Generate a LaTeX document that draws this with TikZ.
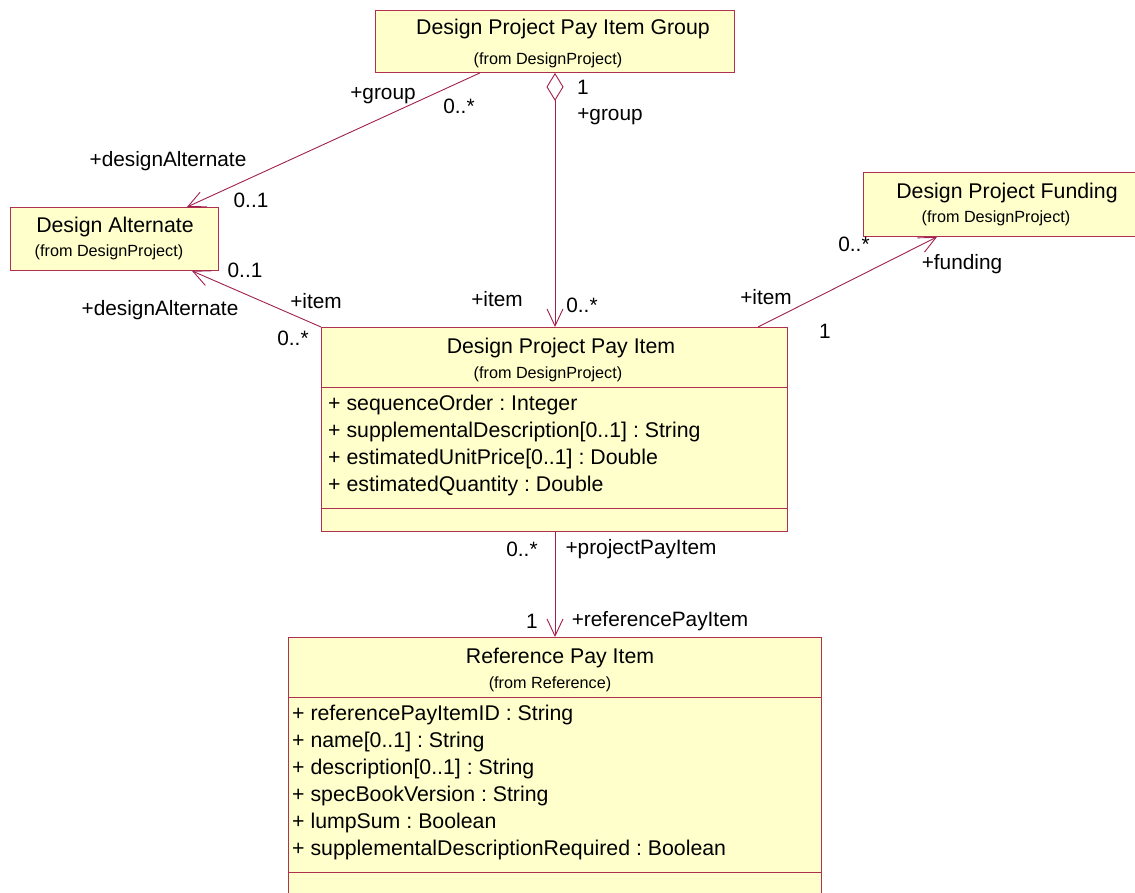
\documentclass[tikz,border=0pt]{standalone}
\usepackage{fontspec}
\setmainfont{Liberation Sans}
\usetikzlibrary{arrows.meta}
\frenchspacing

\definecolor{boxfill}{RGB}{255,255,204}
\definecolor{boxline}{RGB}{176,48,80}
\definecolor{linecol}{RGB}{160,32,80}

\tikzset{
  cls/.style={draw=boxline, fill=boxfill, line width=0.9pt, anchor=north west, inner sep=0pt},
  ttl/.style={anchor=base, inner sep=0pt, font=\fontsize{21.3}{25}\selectfont},
  frm/.style={anchor=base, inner sep=0pt, font=\fontsize{16.2}{19}\selectfont},
  attr/.style={anchor=base west, inner sep=0pt, font=\fontsize{21.3}{25}\selectfont},
  lbl/.style={inner sep=0pt, font=\fontsize{20.8}{25}\selectfont},
  assoc/.style={draw=linecol, line width=0.9pt},
  nav/.style={assoc, -{Straight Barb[length=17pt,width=16pt]}},
}

\begin{document}
\begin{tikzpicture}[x=1pt, y=-1pt]
    \useasboundingbox (0,0) rectangle (1135,893);
    \clip (0,0) rectangle (1135,893);

    % classes
    \node[cls, minimum width=359pt, minimum height=62pt] (grp) at (375,10) {};
    \node[ttl] (grpT) at (563,35) {Design Project Pay Item Group};
    \node[frm] (grpF) at (548,65) {(from DesignProject)};

    \node[cls, minimum width=208pt, minimum height=63pt] (alt) at (10,207) {};
    \node[ttl] (altT) at (115,233) {Design Alternate};
    \node[frm] (altF) at (109,257) {(from DesignProject)};

    \node[cls, minimum width=280pt, minimum height=64pt] (fund) at (863,172) {};
    \node[ttl] (fundT) at (1007,199) {Design Project Funding};
    \node[frm] (fundF) at (996,223) {(from DesignProject)};

    \node[cls, minimum width=466pt, minimum height=204pt] (item) at (321,327) {};
    \node[ttl] (itemT) at (561,353) {Design Project Pay Item};
    \node[frm] (itemF) at (548,378) {(from DesignProject)};
    \draw[draw=boxline, line width=0.9pt] ([yshift=-60pt]item.north west) -- ([yshift=-60pt]item.north east);
    \draw[draw=boxline, line width=0.9pt] ([yshift=-181pt]item.north west) -- ([yshift=-181pt]item.north east);
    \foreach \t [count=\i] in {{+ sequenceOrder : Integer},
        {+ supplementalDescription[0..1] : String},
        {+ estimatedUnitPrice[0..1] : Double},
        {+ estimatedQuantity : Double}}
        \node[attr] (itemA\i) at (328,410+27*\i-27) {\t};

    \node[cls, minimum width=533pt, minimum height=270pt] (ref) at (288,637) {};
    \node[ttl] (refT) at (560,663) {Reference Pay Item};
    \node[frm] (refF) at (550,688) {(from Reference)};
    \draw[draw=boxline, line width=0.9pt] ([yshift=-60pt]ref.north west) -- ([yshift=-60pt]ref.north east);
    \draw[draw=boxline, line width=0.9pt] ([yshift=-235pt]ref.north west) -- ([yshift=-235pt]ref.north east);
    \foreach \t [count=\i] in {{+ referencePayItemID : String},
        {+ name[0..1] : String},
        {+ description[0..1] : String},
        {+ specBookVersion : String},
        {+ lumpSum : Boolean},
        {+ supplementalDescriptionRequired : Boolean}}
        \node[attr] (refA\i) at (292,720+27*\i-27) {\t};

    % associations
    \draw[nav] ([xshift=105pt]grp.south west) -- ([xshift=177pt]alt.north west);
    \draw[assoc, {Diamond[open,length=28pt,width=17pt]}-{Straight Barb[length=17pt,width=16pt]}]
        ([xshift=180pt]grp.south west) -- ([xshift=234pt]item.north west);
    \draw[nav] (item.north west) -- ([xshift=182pt]alt.south west);
    \draw[nav] ([xshift=437pt]item.north west) -- ([xshift=74pt]fund.south west);
    \draw[nav] ([xshift=234pt]item.south west) -- ([xshift=267pt]ref.north west);

    % role names and multiplicities
    \node[lbl] (l1) at (383,96) {+group};
    \node[lbl] (l2) at (459,106) {0..*};
    \node[lbl] (l3) at (168,161) {+designAlternate};
    \node[lbl] (l4) at (251,200) {0..1};
    \node[lbl] (l5) at (583,87) {1};
    \node[lbl] (l6) at (610,117) {+group};
    \node[lbl] (l7) at (245,270) {0..1};
    \node[lbl] (l8) at (316,301) {+item};
    \node[lbl] (l9) at (160,310) {+designAlternate};
    \node[lbl] (l10) at (293,338) {0..*};
    \node[lbl] (l11) at (497,299) {+item};
    \node[lbl] (l12) at (582,305) {0..*};
    \node[lbl] (l13) at (766,297) {+item};
    \node[lbl] (l14) at (825,331) {1};
    \node[lbl] (l15) at (854,244) {0..*};
    \node[lbl] (l16) at (962,264) {+funding};
    \node[lbl] (l17) at (522,549) {0..*};
    \node[lbl] (l18) at (641,549) {+projectPayItem};
    \node[lbl] (l19) at (532,621) {1};
    \node[lbl] (l20) at (660,621) {+referencePayItem};
\end{tikzpicture}
\end{document}
